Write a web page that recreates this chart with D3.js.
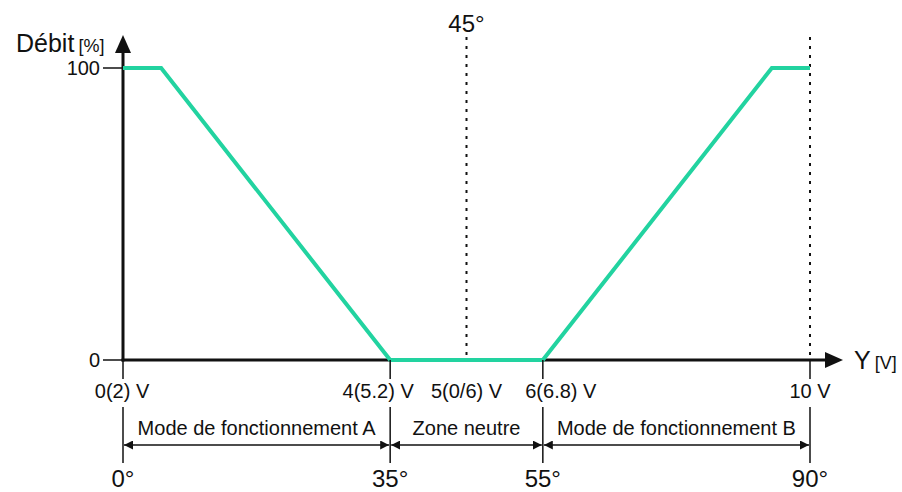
<!DOCTYPE html>
<html>
<head>
<meta charset="utf-8">
<script src="https://cdn.jsdelivr.net/npm/d3@7"></script>
<style>
  body { margin: 0; background: #fff; }
  text { font-family: "Liberation Sans", Arial, sans-serif; fill: #111; }
</style>
</head>
<body>
<div id="container"></div>
<script>
// chart data
var degTicks = [0, 35, 55, 90];
var voltLabels = ["0(2) V", "4(5.2) V", "6(6.8) V", "10 V"];
var midDeg = 45;
var midVolt = "5(0/6) V";
var flowDeg = [0, 5, 35, 55, 85, 90];
var flowPct = [100, 100, 0, 0, 100, 100];
var zoneNames = ["Mode de fonctionnement A", "Zone neutre", "Mode de fonctionnement B"];
var yTicks = [0, 100];

var width = 902, height = 492;
var teal = "#22d3a0";

var svg = d3.select("#container").append("svg")
    .attr("width", width)
    .attr("height", height);

var defs = svg.append("defs");
defs.append("marker")
    .attr("id", "dimArrow")
    .attr("viewBox", "0 0 10 10")
    .attr("refX", 10).attr("refY", 5)
    .attr("markerWidth", 9).attr("markerHeight", 9)
    .attr("markerUnits", "userSpaceOnUse")
    .attr("orient", "auto-start-reverse")
    .append("path")
    .attr("d", "M0,0 L10,5 L0,10 Z")
    .attr("fill", "#111");

var x = d3.scaleLinear().domain([0, 90]).range([123, 810]);
var y = d3.scaleLinear().domain([0, 100]).range([360, 68]);

var x0 = x(0), yBase = y(0);

// dotted guides at 45 and 90 degrees
[midDeg, 90].forEach(function(d) {
    svg.append("line")
        .attr("x1", x(d)).attr("x2", x(d))
        .attr("y1", 37).attr("y2", yBase)
        .attr("stroke", "#111")
        .attr("stroke-width", 2)
        .attr("stroke-dasharray", "3,6");
});

svg.append("text")
    .attr("x", x(midDeg)).attr("y", 32)
    .attr("text-anchor", "middle")
    .style("font-size", "24px")
    .text(midDeg + "°");

// y ticks
yTicks.forEach(function(t) {
    svg.append("line")
        .attr("x1", x0 - 20).attr("x2", x0)
        .attr("y1", y(t)).attr("y2", y(t))
        .attr("stroke", "#111").attr("stroke-width", 1.5);
    svg.append("text")
        .attr("x", x0 - 23).attr("y", y(t) + 7)
        .attr("text-anchor", "end")
        .style("font-size", "20px")
        .text(t);
});

// axes
svg.append("line")
    .attr("x1", x0).attr("x2", x0)
    .attr("y1", yBase + 1.5).attr("y2", 52)
    .attr("stroke", "#111").attr("stroke-width", 3);
svg.append("path")
    .attr("d", "M" + (x0 - 8) + ",53 L" + x0 + ",35 L" + (x0 + 8) + ",53 Z")
    .attr("fill", "#111");

svg.append("line")
    .attr("x1", x0 - 1.5).attr("x2", 826)
    .attr("y1", yBase).attr("y2", yBase)
    .attr("stroke", "#111").attr("stroke-width", 3);
svg.append("path")
    .attr("d", "M825," + (yBase - 8) + " L843," + yBase + " L825," + (yBase + 8) + " Z")
    .attr("fill", "#111");

// axis titles
var ty = svg.append("text").attr("x", 16).attr("y", 52);
ty.append("tspan").style("font-size", "25px").text("Débit");
ty.append("tspan").style("font-size", "18px").attr("dx", 4).text("[%]");

var tx = svg.append("text").attr("x", 854).attr("y", 369);
tx.append("tspan").style("font-size", "25px").text("Y");
tx.append("tspan").style("font-size", "18px").attr("dx", 4).text("[V]");

// flow line
var pts = flowDeg.map(function(d, i) { return [d, flowPct[i]]; });
svg.append("path")
    .datum(pts)
    .attr("fill", "none")
    .attr("stroke", teal)
    .attr("stroke-width", 4)
    .attr("stroke-linejoin", "miter")
    .attr("d", d3.line()
        .x(function(d) { return x(d[0]); })
        .y(function(d) { return y(d[1]); }));

// ticks below axis + voltage labels
var labelShift = [-1, -12, 18, 0];
degTicks.forEach(function(d, i) {
    svg.append("line")
        .attr("x1", x(d)).attr("x2", x(d))
        .attr("y1", yBase).attr("y2", 379)
        .attr("stroke", "#111").attr("stroke-width", 1.5);
    svg.append("line")
        .attr("x1", x(d)).attr("x2", x(d))
        .attr("y1", 407).attr("y2", 463)
        .attr("stroke", "#111").attr("stroke-width", 1.5);
    svg.append("text")
        .attr("x", x(d) + labelShift[i]).attr("y", 398)
        .attr("text-anchor", "middle")
        .style("font-size", "20px")
        .text(voltLabels[i]);
    svg.append("text")
        .attr("x", x(d)).attr("y", 487)
        .attr("text-anchor", "middle")
        .style("font-size", "24px")
        .text(d + "°");
});

svg.append("text")
    .attr("x", x(midDeg)).attr("y", 398)
    .attr("text-anchor", "middle")
    .style("font-size", "20px")
    .text(midVolt);

// zone dimension arrows
zoneNames.forEach(function(name, i) {
    var a = x(degTicks[i]), b = x(degTicks[i + 1]);
    svg.append("line")
        .attr("x1", a + 1).attr("x2", b - 1)
        .attr("y1", 445).attr("y2", 445)
        .attr("stroke", "#111").attr("stroke-width", 1.5)
        .attr("marker-start", "url(#dimArrow)")
        .attr("marker-end", "url(#dimArrow)");
    svg.append("text")
        .attr("x", (a + b) / 2).attr("y", 435)
        .attr("text-anchor", "middle")
        .style("font-size", "20px")
        .text(name);
});
</script>
</body>
</html>
